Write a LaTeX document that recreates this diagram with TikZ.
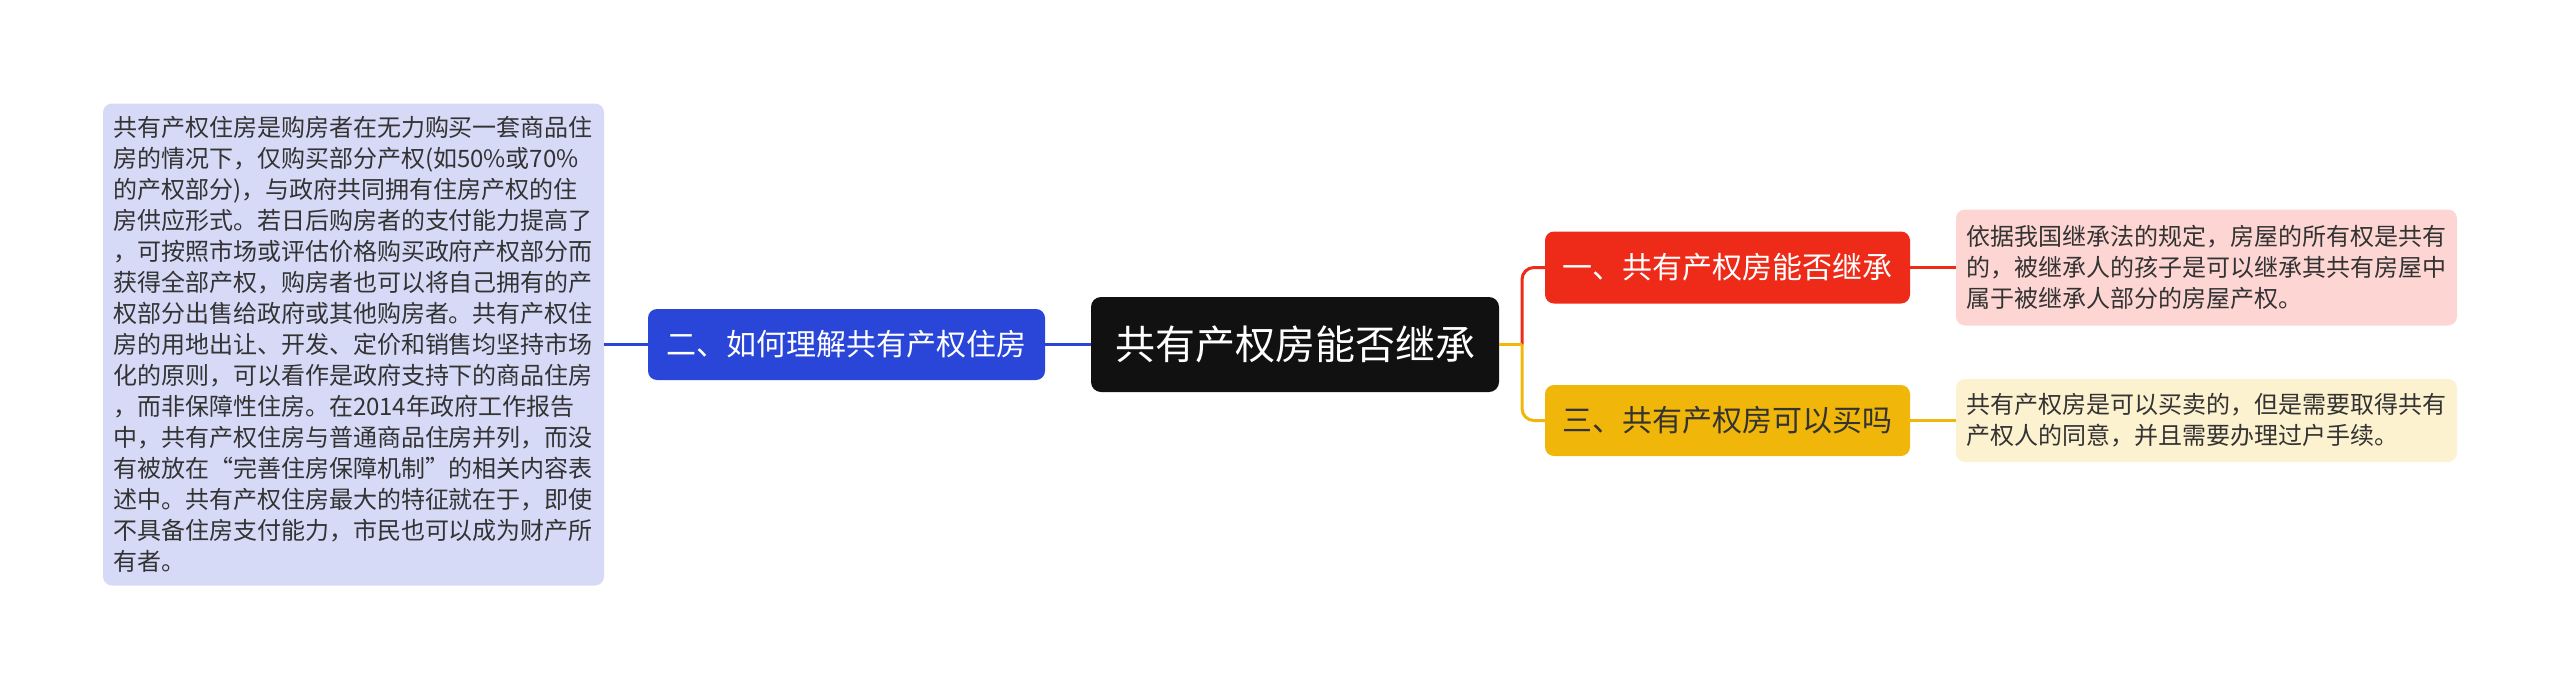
\documentclass[tikz,border=0pt]{standalone}
\usepackage{fontspec}
\setmainfont{Noto Sans CJK SC}
\definecolor{cBlue}{HTML}{2A46D8}
\definecolor{cRed}{HTML}{EE2A18}
\definecolor{cYel}{HTML}{F0B70A}
\definecolor{cBlack}{HTML}{111111}
\definecolor{fLav}{HTML}{D6DAF7}
\definecolor{fPink}{HTML}{FDD6D3}
\definecolor{fCream}{HTML}{FDF2CF}
\definecolor{tDark}{HTML}{333333}
\tikzset{
  topicbox/.style={rounded corners=9pt, inner sep=0pt, align=center, font=\fontsize{30}{36}\selectfont},
  notebox/.style={rounded corners=9pt, inner sep=0pt, text=tDark, align=left, font=\fontsize{24}{31}\selectfont},
  link/.style={line width=3pt},
}
\begin{document}
\begin{tikzpicture}[x=1pt,y=-1pt]
\useasboundingbox (0,0) rectangle (2560,689);
% central
\node[fill=cBlack, text=white, rounded corners=10pt, inner sep=0pt, minimum width=408pt, minimum height=95pt, font=\fontsize{40}{48}\selectfont] (c) at (1295,344.5) {共有产权房能否继承};
% left branch
\node[topicbox, fill=cBlue, text=white, minimum width=397pt, minimum height=71pt] (b) at (846.5,344.5) {二、如何理解共有产权住房};
\node[notebox, fill=fLav, minimum width=501pt, minimum height=482pt, text width=481pt] (bt) at (353.5,344.5) {共有产权住房是购房者在无力购买一套商品住\\房的情况下，仅购买部分产权(如50\%或70\%\\的产权部分)，与政府共同拥有住房产权的住\\房供应形式。若日后购房者的支付能力提高了\\，可按照市场或评估价格购买政府产权部分而\\获得全部产权，购房者也可以将自己拥有的产\\权部分出售给政府或其他购房者。共有产权住\\房的用地出让、开发、定价和销售均坚持市场\\化的原则，可以看作是政府支持下的商品住房\\，而非保障性住房。在2014年政府工作报告\\中，共有产权住房与普通商品住房并列，而没\\有被放在“完善住房保障机制”的相关内容表\\述中。共有产权住房最大的特征就在于，即使\\不具备住房支付能力，市民也可以成为财产所\\有者。};
% right branches
\node[topicbox, fill=cRed, text=white, minimum width=365pt, minimum height=72pt] (r) at (1727.5,267.5) {一、共有产权房能否继承};
\node[notebox, fill=fPink, minimum width=501pt, minimum height=116pt, text width=481pt] (rt) at (2206.5,267.5) {依据我国继承法的规定，房屋的所有权是共有\\的，被继承人的孩子是可以继承其共有房屋中\\属于被继承人部分的房屋产权。};
\node[topicbox, fill=cYel, text=tDark, minimum width=365pt, minimum height=71pt] (y) at (1727.5,420.5) {三、共有产权房可以买吗};
\node[notebox, fill=fCream, minimum width=501pt, minimum height=83pt, text width=481pt] (yt) at (2206.5,420.5) {共有产权房是可以买卖的，但是需要取得共有\\产权人的同意，并且需要办理过户手续。};
% connectors
\draw[link, cBlue] (bt.east) -- (b.west);
\draw[link, cBlue] (b.east) -- (c.west);
\coordinate (j) at (1522,344.5);
\draw[link, cRed, rounded corners=12pt] (j) |- (r.west);
\draw[link, cYel, rounded corners=12pt] (j) |- (y.west);
\draw[link, cYel] (c.east) -- (j);
\draw[link, cRed] (r.east) -- (rt.west);
\draw[link, cYel] (y.east) -- (yt.west);
\end{tikzpicture}
\end{document}
